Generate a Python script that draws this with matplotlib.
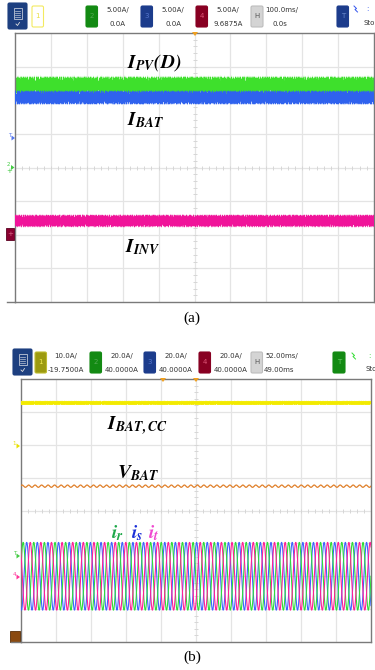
import numpy as np
import matplotlib
matplotlib.use("Agg")
import matplotlib.pyplot as plt
from matplotlib.patches import FancyBboxPatch, Rectangle, Polygon

plt.rcParams["mathtext.fontset"] = "stix"

W, H = 375, 670

# ---- panel (a): 5 A/div, 100 ms/div
a_names = ["I_PV(D)", "I_BAT", "I_INV"]
a_colors = ["#3ee02c", "#2f62ee", "#f0149a"]
a_scale = [5.0, 5.0, 5.0]           # A/div
a_offset = [0.0, 0.0, 9.6875]       # A
a_mean = [12.2, 10.4, 1.75]         # A
a_ripple = [1.25, 0.95, 0.85]       # A, peak

# ---- panel (b): 52 ms/div
ibat_cc = 13.0                      # A, ch1 10 A/div, offset -19.75 A
ibat_scale, ibat_offset = 10.0, -19.75
ibat_ripple = 0.5
vbat_div = 0.74                     # trace position, div
vbat_ripple_div = 0.035
vbat_cycles = 54
phase_amp = 20.6                    # A peak
phase_scale, phase_offset = 20.0, 40.0
phase_cycles = 33                   # per screen
phase_colors = ["#2fdc3a", "#3f63ff", "#ff1f96"]
phase_shift = [0.0, -2 * np.pi / 3, 2 * np.pi / 3]

# switching ripple components, period in samples / weight
rip_periods = [2.13, 2.71, 3.37, 4.93, 7.31, 11.7]
rip_weights = [1.0, 0.8, 0.6, 0.45, 0.3, 0.2]

# header readouts
a_header = [("2", "#138a13", "5.00A/", "0.0A", 118),
            ("3", "#1c3c8c", "5.00A/", "0.0A", 173),
            ("4", "#880022", "5.00A/", "9.6875A", 228)]
b_header = [("2", "#138a13", "20.0A/", "40.0000A", 122),
            ("3", "#1c3c8c", "20.0A/", "40.0000A", 176),
            ("4", "#880022", "20.0A/", "40.0000A", 231)]
num_colors = {"2": "#55aa55", "3": "#5577cc", "4": "#dd5577"}

fig = plt.figure(figsize=(W / 100, H / 100), dpi=100)
fig.patch.set_facecolor("white")


def px_axes(l, t, r, b):
    return fig.add_axes([l / W, 1 - b / H, (r - l) / W, (b - t) / H])


def scope_grid(ax):
    ax.set_xlim(0, 10)
    ax.set_ylim(-4, 4)
    ax.set_xticks([])
    ax.set_yticks([])
    for k in range(1, 10):
        ax.axvline(k, color="#e4e4e4", lw=0.9, zorder=0)
    for k in range(-3, 4):
        ax.axhline(k, color="#e4e4e4", lw=0.9, zorder=0)
    # centre axes with 1/5 div ticks
    ax.plot(np.arange(0.2, 10, 0.2), np.zeros(49), "|", color="#d6d6d6",
            ms=2.5, mew=0.7, zorder=0)
    ax.plot(np.full(39, 5.0), np.arange(-3.8, 4, 0.2), "_", color="#d6d6d6",
            ms=2.5, mew=0.7, zorder=0)
    for s in ax.spines.values():
        s.set_color("#7a7a7a")
        s.set_linewidth(1.0)


def ripple(n, shift):
    i = np.arange(n) + shift
    s = sum(w * np.sin(2 * np.pi * i / p + 1.7 * k)
            for k, (p, w) in enumerate(zip(rip_periods, rip_weights)))
    s = np.tanh(1.1 * s / s.std())
    return s / np.abs(s).max()


# ---------------- panel (a)
axa = px_axes(15, 33, 374, 302)
scope_grid(axa)
n = 2600
t = np.linspace(0, 10, n)
for c in [0, 1, 2]:
    base = (a_mean[c] - a_offset[c]) / a_scale[c]
    r = ripple(n, 137 * c) * a_ripple[c] / a_scale[c]
    axa.plot(t, base + 1.15 * r, color=a_colors[c], lw=0.4, alpha=0.3, zorder=2 + c)
    axa.plot(t, base + r, color=a_colors[c], lw=0.45, zorder=2 + c)
    axa.plot(t, base + 0.45 * r, color=a_colors[c], lw=1.8, zorder=2 + c)

# ---------------- panel (b)
axb = px_axes(20.5, 379, 371, 642)
scope_grid(axb)
n2 = 2400
t2 = np.linspace(0, 10, n2)
y_cc = (ibat_cc - ibat_offset) / ibat_scale
axb.plot(t2, y_cc + ripple(n2, 51) * ibat_ripple / ibat_scale,
         color="#f4ec10", lw=0.7, zorder=3)
axb.plot(t2, np.full(n2, y_cc), color="#f2ea00", lw=1.6, zorder=3)
axb.plot(t2, vbat_div + vbat_ripple_div * np.sin(2 * np.pi * vbat_cycles * t2 / 10),
         color="#e0802a", lw=0.9, zorder=3)
for c in [1, 0, 2]:
    y = (phase_amp * np.sin(2 * np.pi * phase_cycles * t2 / 10 + phase_shift[c])
         - phase_offset) / phase_scale
    axb.plot(t2, y, color=phase_colors[c], lw=0.8, zorder=3)

# ---------------- overlay: header bars, markers, labels
ov = fig.add_axes([0, 0, 1, 1], zorder=10)
ov.set_xlim(0, W)
ov.set_ylim(H, 0)
ov.axis("off")
ov.patch.set_alpha(0)


def box(x0, y0, x1, y1, fc, ec=None, label="", tc="#222222", fs=5):
    p = FancyBboxPatch((x0, y0), x1 - x0, y1 - y0, boxstyle="round,pad=0,rounding_size=1.5",
                       fc=fc, ec=ec if ec else fc, lw=0.8)
    ov.add_patch(p)
    if label:
        ov.text((x0 + x1) / 2, (y0 + y1) / 2, label, ha="center", va="center",
                fontsize=fs, color=tc)


def menu_icon(x0, y0, x1, y1):
    box(x0, y0, x1, y1, "#1d3f80")
    cx = (x0 + x1) / 2
    ov.add_patch(Rectangle((cx - 4, y0 + 5), 8, 11, fc="none", ec="#c0c8d8", lw=0.6))
    for k in range(4):
        ov.plot([cx - 2.5, cx + 2.5], [y0 + 7.5 + 2.2 * k] * 2, color="#c0c8d8", lw=0.5)
    ov.plot([cx - 1.5, cx, cx + 2], [y1 - 5, y1 - 3.5, y1 - 6.5], color="#e0e0e0", lw=0.6)


def readout(cx, ytop, l1, l2, ha="center"):
    ov.text(cx, ytop + 6, l1, ha=ha, va="center", fontsize=5, color="#333333")
    ov.text(cx, ytop + 20, l2, ha=ha, va="center", fontsize=5, color="#333333")


# header (a)
menu_icon(8, 3, 27, 29)
box(32, 6, 43.5, 27, "white", "#f3ea60", "1", "#e8de40")
for num, col, l1, l2, cx in a_header:
    bx = cx - 32
    box(bx, 6, bx + 11.5, 27, col, None, num, num_colors[num])
    readout(cx, 4, l1, l2)
box(251, 6, 263, 27, "#d4d4d4", "#bdbdbd", "H", "#555555")
ov.text(265.5, 10, "100.0ms/", ha="left", va="center", fontsize=5, color="#333333")
ov.text(279.5, 24, "0.0s", ha="center", va="center", fontsize=5, color="#333333")
box(337, 6, 348.5, 27, "#1c3c8c", None, "T", "#6a8acc")
ov.plot([354, 356.5, 355, 357.5], [6, 8.5, 9.5, 12], color="#3355ee", lw=0.7)
ov.text(366, 9, ":", fontsize=5, color="#3355ee", ha="left", va="center")
ov.text(363, 23, "Sto", fontsize=5, color="#333333", ha="left", va="center")

# header (b)
menu_icon(13, 349, 32, 375)
box(35, 352, 46.5, 373, "#9c9a10", "#bdbb30", "1", "#f0ea50")
readout(66, 350, "10.0A/", "-19.7500A")
for num, col, l1, l2, cx in b_header:
    bx = cx - 32
    box(bx, 352, bx + 11.5, 373, col, None, num, num_colors[num])
    readout(cx, 350, l1, l2)
box(251, 352, 262.5, 373, "#d4d4d4", "#bdbdbd", "H", "#555555")
ov.text(265, 356, "52.00ms/", ha="left", va="center", fontsize=5, color="#333333")
ov.text(279, 370, "49.00ms", ha="center", va="center", fontsize=5, color="#333333")
box(333, 352, 345, 373, "#138a13", None, "T", "#66cc66")
ov.plot([352, 354.5, 353, 355.5], [353, 355.5, 356.5, 359], color="#33dd33", lw=0.7)
ov.text(368, 356, ":", fontsize=5, color="#33dd33", ha="left", va="center")
ov.text(365, 369, "Sto", fontsize=5, color="#333333", ha="left", va="center")

# trigger position marks on the top borders
for x, y in [(195, 33), (163, 379), (196, 379)]:
    ov.add_patch(Polygon([[x - 3, y - 1], [x + 3, y - 1], [x, y + 3]], closed=True,
                         fc="#f0a020", ec="none"))

# bottom borders run a little past the left frame
ov.plot([7, 15], [302, 302], color="#7a7a7a", lw=1.0)
ov.plot([11, 20.5], [642, 642], color="#7a7a7a", lw=1.0)


def ground_mark(y, x, col, label):
    ov.add_patch(Polygon([[x, y - 2.5], [x, y + 2.5], [x + 3.5, y]], closed=True, fc=col, ec="none"))
    ov.text(x - 0.5, y - 2.5, label, fontsize=4, color=col, ha="right", va="center")


# panel (a) markers
ground_mark(138, 11.5, "#5577ee", "T")
ground_mark(167.5, 11, "#44cc44", "2")
ov.text(9.5, 171, "+", fontsize=5, color="#44cc44", ha="center", va="center")
ov.add_patch(Rectangle((6, 228), 8, 12, fc="#8a0030", ec="#5a0020", lw=0.6))
ov.text(10, 234, "+", fontsize=5, color="#dd6688", ha="center", va="center")

# panel (b) markers
ground_mark(446, 16.5, "#e8e000", "1")
ground_mark(556, 16.5, "#44cc44", "T")
ground_mark(577, 16.5, "#ff3399", "4")
ov.add_patch(Rectangle((10, 631), 10, 11, fc="#8a4a10", ec="#5a3008", lw=0.6))

# trace labels
lab = dict(fontsize=14, color="black", ha="left", va="center")
ov.text(127, 63, r"$\mathbfit{I}_{\mathbfit{PV}}\mathbfit{(D)}$", **lab)
ov.text(127, 120, r"$\mathbfit{I}_{\mathbfit{BAT}}$", **lab)
ov.text(125, 247, r"$\mathbfit{I}_{\mathbfit{INV}}$", **lab)
ov.text(107, 426, r"$\mathbfit{I}_{\mathbfit{BAT,CC}}$", **lab)
ov.text(117, 473, r"$\mathbfit{V}_{\mathbfit{BAT}}$", **lab)
ov.text(111, 533, r"$\mathbfit{i}_{\mathbfit{r}}$", fontsize=14, color="#1ea84a", ha="left", va="center")
ov.text(131, 533, r"$\mathbfit{i}_{\mathbfit{s}}$", fontsize=14, color="#1a2fd8", ha="left", va="center")
ov.text(148, 533, r"$\mathbfit{i}_{\mathbfit{t}}$", fontsize=14, color="#f04ad0", ha="left", va="center")

ov.text(192, 318, "(a)", fontsize=11, family="Liberation Serif", ha="center", va="center")
ov.text(192, 657, "(b)", fontsize=11, family="Liberation Serif", ha="center", va="center")

fig.savefig("out.png", dpi=100, facecolor="white")
